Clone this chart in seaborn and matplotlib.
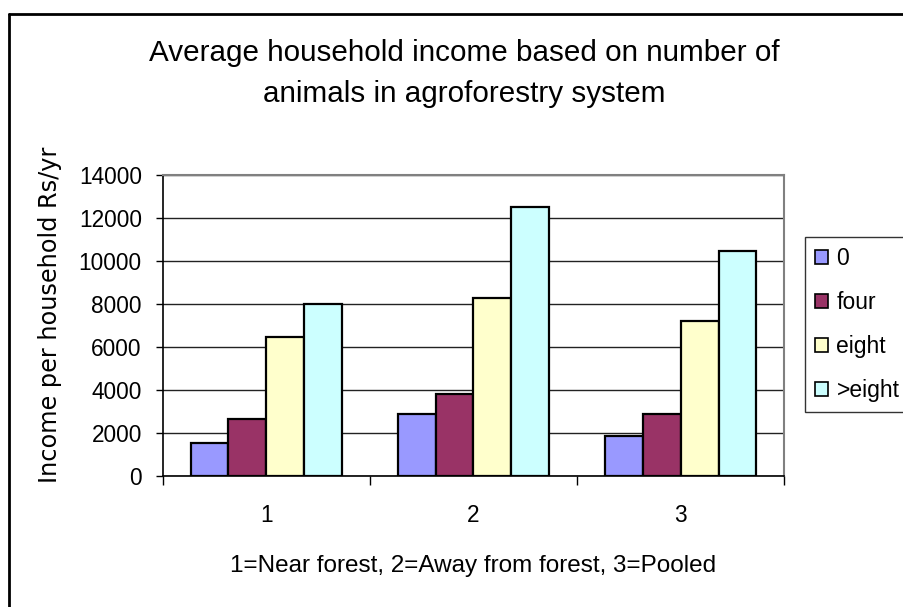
import matplotlib
matplotlib.use("Agg")
import matplotlib.pyplot as plt
from matplotlib.lines import Line2D
import seaborn as sns
import pandas as pd

# Site categories and income series per herd-size class
sites = ["1", "2", "3"]
herd_classes = ["0", "four", "eight", ">eight"]
income_0 = [1550, 2900, 1850]
income_four = [2650, 3800, 2900]
income_eight = [6450, 8300, 7200]
income_gt_eight = [8000, 12500, 10450]
y_ticks = [0, 2000, 4000, 6000, 8000, 10000, 12000, 14000]

colors = ["#9999FF", "#993366", "#FFFFCC", "#CCFFFF"]

series = [income_0, income_four, income_eight, income_gt_eight]
rows = []
for cls, vals in zip(herd_classes, series):
    for s, v in zip(sites, vals):
        rows.append({"site": s, "herd": cls, "income": v})
df = pd.DataFrame(rows)

sns.set_theme(style="white")
plt.rcParams["font.family"] = ["Liberation Sans", "DejaVu Sans"]
for key in ["text.color", "axes.labelcolor", "xtick.color", "ytick.color"]:
    plt.rcParams[key] = "black"

W, H = 904, 607
fig = plt.figure(figsize=(W / 100, H / 100), dpi=100)
ax = fig.add_axes([162.7 / W, 1 - 476 / H, (784.3 - 162.7) / W, (476 - 175) / H])

sns.barplot(data=df, x="site", y="income", hue="herd", order=sites,
            hue_order=herd_classes, palette=colors, width=0.73,
            edgecolor="black", linewidth=1.6, saturation=1, ax=ax,
            legend=True)

ax.set_ylim(0, 14000)
ax.set_xlim(-0.5, 2.5)
ax.set_yticks(y_ticks)
ax.set_yticklabels([str(t) for t in y_ticks], fontsize=16.3)
ax.tick_params(axis="x", which="major", length=0, labelsize=16.3, pad=20.5)
ax.set_xticks([-0.5, 0.5, 1.5, 2.5], minor=True)
ax.tick_params(axis="x", which="minor", length=6.5, width=1, color="black",
               direction="out", bottom=True)
ax.tick_params(axis="y", length=5, width=1, color="black", direction="out",
               left=True, pad=10)

ax.yaxis.grid(True, color="#222222", linewidth=1)
ax.set_axisbelow(True)

for side in ["top", "right"]:
    ax.spines[side].set_color("#808080")
    ax.spines[side].set_linewidth(1.5)
for side in ["left", "bottom"]:
    ax.spines[side].set_color("black")
    ax.spines[side].set_linewidth(1.2)

ax.set_ylabel("")
ax.set_xlabel("")
fig.text(50 / W, 1 - 315 / H, "Income per household Rs/yr",
         rotation=90, ha="center", va="center", fontsize=17.3,
         family=["DejaVu Sans"])
fig.text(473.5 / W, 1 - 572 / H, "1=Near forest, 2=Away from forest, 3=Pooled",
         ha="center", va="baseline", fontsize=17.5)

fig.text(464 / W, 0.879,
         "Average household income based on number of\nanimals in agroforestry system",
         ha="center", va="center", fontsize=21.3, linespacing=1.6)

handles, labels = ax.get_legend_handles_labels()
ax.get_legend().remove()
leg = fig.legend(handles, labels, loc="upper left",
                 bbox_to_anchor=(805 / W, 1 - 237 / H),
                 bbox_transform=fig.transFigure, frameon=True,
                 fontsize=16.5, handlelength=0.57, handleheight=0.57,
                 handletextpad=0.35, labelspacing=0.91, borderpad=0.45,
                 borderaxespad=0, fancybox=False)
leg.get_frame().set_edgecolor("black")
leg.get_frame().set_linewidth(1)
for h in leg.legend_handles:
    h.set_edgecolor("black")
    h.set_linewidth(1.2)

# Chart-area frame along the left and top edges
fig.add_artist(Line2D([9 / W, 9 / W], [0, 1 - 14 / H],
                      transform=fig.transFigure, color="black", linewidth=2))
fig.add_artist(Line2D([9 / W, 1], [1 - 14 / H, 1 - 14 / H],
                      transform=fig.transFigure, color="black", linewidth=2))

fig.savefig("out.png", dpi=100)
